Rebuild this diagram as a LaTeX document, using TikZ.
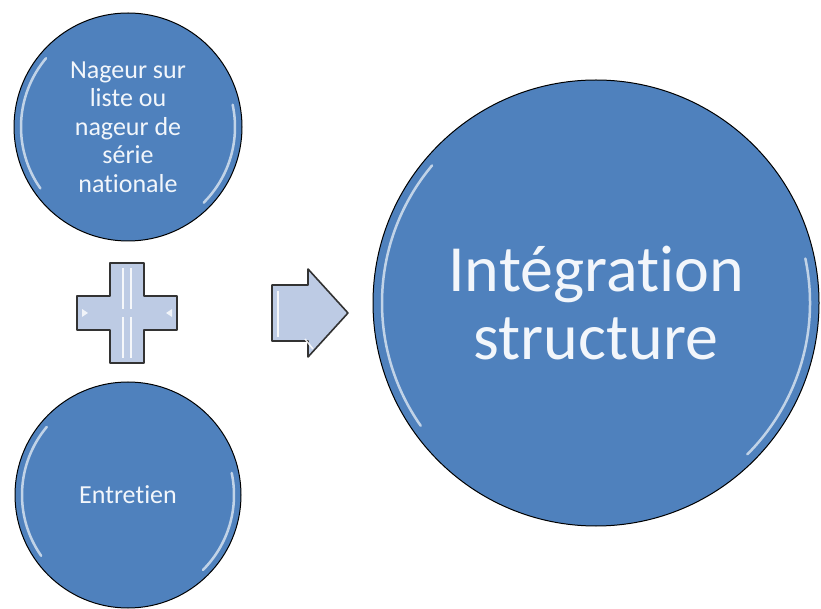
\documentclass[tikz,border=0pt]{standalone}
\usepackage{fontspec}
\setmainfont[Ligatures=NoCommon]{Carlito}
\usetikzlibrary{positioning}

\definecolor{bulle}{HTML}{4F81BD}
\definecolor{acier}{HTML}{BDCBE4}
\definecolor{blanccasse}{HTML}{F2F6FB}

\begin{document}
\begin{tikzpicture}[x=1pt,y=1pt,
    bulle/.style={circle,draw=black,line width=1pt,fill=bulle,text=blanccasse,align=center,inner sep=0pt},
    reflet/.style={white,opacity=.65,line width=2.5pt,line cap=round},
    facette/.style={fill=acier,draw=black!80,line width=1.6pt,line join=round},
    eclat/.style={white,opacity=.85,line width=1.5pt}]
    \useasboundingbox (0,0) rectangle (821,608);
    % les trois bulles
    \node[bulle,minimum size=228pt,font=\fontsize{26}{28.5}\selectfont] (nageur) at (128,481) {Nageur sur\\liste ou\\nageur de\\série\\nationale};
    \node[bulle,minimum size=226pt,font=\fontsize{26}{28.5}\selectfont] (entretien) at (128,113) {Entretien};
    \node[bulle,minimum size=446pt,font=\fontsize{66}{68}\selectfont] (integ) at (596,305) {Intégration\\structure};
    \foreach \n/\r in {nageur/107pt,entretien/106pt,integ/214pt} {
        \draw[reflet] (\n.center) ++(140:\r) arc[start angle=140,end angle=215,radius=\r];
        \draw[reflet] (\n.center) ++(-45:\r) arc[start angle=-45,end angle=12,radius=\r];
    }
    % le plus
    \coordinate (plus) at (127,295);
    \draw[facette] (plus) ++(-17,50) -- ++(34,0) -- ++(0,-33) -- ++(33,0) -- ++(0,-34) -- ++(-33,0)
        -- ++(0,-33) -- ++(-34,0) -- ++(0,33) -- ++(-33,0) -- ++(0,34) -- ++(33,0) -- cycle;
    \draw[eclat] (plus) ++(-4,45) -- ++(0,-41) ++(0,-8) -- ++(0,-41);
    \draw[eclat] (plus) ++(4,45) -- ++(0,-41) ++(0,-8) -- ++(0,-41);
    \fill[white,opacity=.8] (plus) ++(-45,4) -- ++(0,-8) -- ++(6,4) -- cycle;
    \fill[white,opacity=.8] (plus) ++(45,4) -- ++(0,-8) -- ++(-6,4) -- cycle;
    % la flèche
    \coordinate (fleche) at (272,295);
    \draw[facette] (fleche) ++(0,28) -- ++(36,0) -- ++(0,16) -- ++(40,-44) -- ++(-40,-44) -- ++(0,16)
        -- ++(-36,0) -- cycle;
    \draw[eclat] (fleche) ++(6,22) -- ++(0,-46);
    \draw[eclat] (fleche) ++(33,-26) -- ++(8,-10);
\end{tikzpicture}
\end{document}
